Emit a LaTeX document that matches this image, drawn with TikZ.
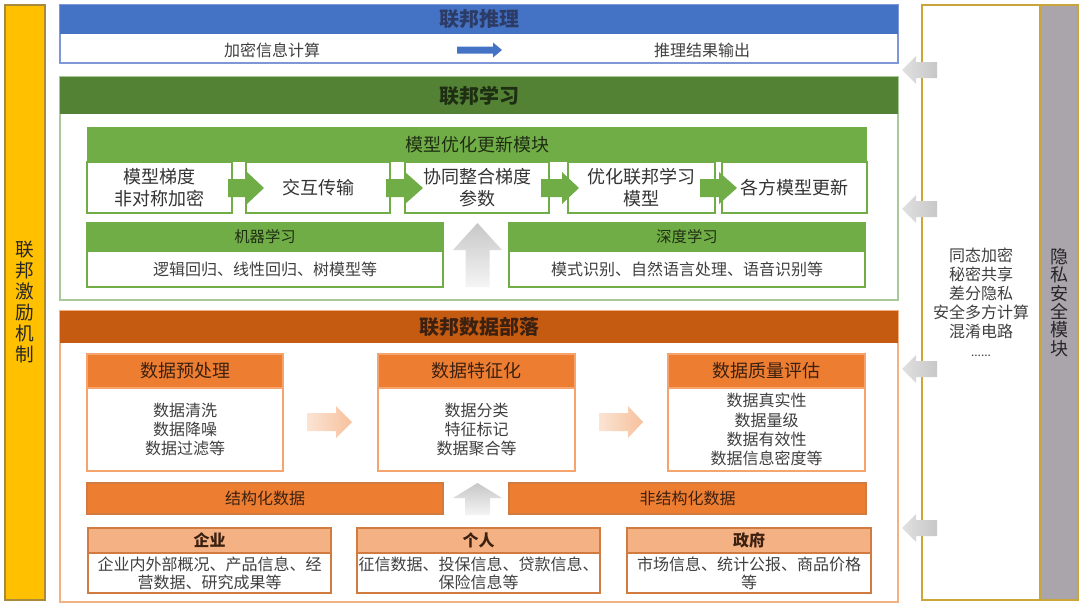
\documentclass[tikz,border=0pt]{standalone}
\usepackage{fontspec}
\setmainfont{Noto Sans CJK SC}
\definecolor{cBlue}{HTML}{4472C4}
\definecolor{cBlueL}{HTML}{7F97D6}
\definecolor{cBlueT}{HTML}{2C3C66}
\definecolor{cGreenD}{HTML}{548235}
\definecolor{cGreen}{HTML}{70AD47}
\definecolor{cGreenB}{HTML}{A9C99A}
\definecolor{cGreenT}{HTML}{1E2E12}
\definecolor{cOrD}{HTML}{C55A11}
\definecolor{cOr}{HTML}{ED7D31}
\definecolor{cOrL}{HTML}{F4B183}
\definecolor{cOrB}{HTML}{F5A46E}
\definecolor{cOrT}{HTML}{3C2110}
\definecolor{cYel}{HTML}{FFC000}
\definecolor{cYelB}{HTML}{A88A3A}
\definecolor{cGold}{HTML}{C9A53A}
\definecolor{cGray}{HTML}{A9A5AB}
\definecolor{txt}{HTML}{404040}
\newcommand\bx[7]{\node[#1, anchor=north west, minimum width={(#4-#2)*0.75pt}, minimum height={(#5-#3)*0.75pt}] (#6) at (#2,#3) {#7};}
\newcommand\harr[7]{\path[#1] (#2,#5-#6) -- (#3,#5-#6) -- (#3,#5-#7) -- (#4,#5) -- (#3,#5+#7) -- (#3,#5+#6) -- (#2,#5+#6) -- cycle;}
\newcommand\varr[7]{\path[#1] (#5-#6,#2) -- (#5-#6,#3) -- (#5-#7,#3) -- (#5,#4) -- (#5+#7,#3) -- (#5+#6,#3) -- (#5+#6,#2) -- cycle;}
\tikzset{
  base/.style={inner sep=0pt, outer sep=0pt, align=center, text=txt, line width=0.8pt},
  yellowbar/.style={base, fill=cYel, draw=cYelB, text=black!85, font=\fontsize{14}{15.75}\selectfont},
  blueouter/.style={base, draw=cBlueL, fill=white},
  bluehead/.style={base, fill=cBlue, text=cBlueT, font=\fontsize{15}{18}\selectfont\bfseries},
  bodytxt/.style={base, font=\fontsize{12}{14.25}\selectfont},
  greenouter/.style={base, draw=cGreenB, fill=white},
  greenhead/.style={base, fill=cGreenD, text=cGreenT, font=\fontsize{15}{18}\selectfont\bfseries},
  lghead/.style={base, fill=cGreen, text=cGreenT, font=\fontsize{13.5}{16}\selectfont},
  stepbox/.style={base, fill=white, draw=cGreen, text=black!80, font=\fontsize{13.5}{16.5}\selectfont},
  lghead2/.style={base, fill=cGreen, draw=cGreen, text=cGreenT, font=\fontsize{11.5}{14}\selectfont},
  gbody/.style={base, fill=white, draw=cGreen, font=\fontsize{12}{14}\selectfont},
  orouter/.style={base, draw=cOrL, fill=white},
  orhead/.style={base, fill=cOrD, text=cOrT, font=\fontsize{15}{18}\selectfont\bfseries},
  ohead/.style={base, fill=cOr, draw=cOrB, text=cOrT, font=\fontsize{13.5}{16}\selectfont},
  obody/.style={base, fill=white, draw=cOrB, font=\fontsize{12}{14.4}\selectfont},
  obar/.style={base, fill=cOr, draw=cOrD!80, text=cOrT, font=\fontsize{12}{14}\selectfont},
  srchead/.style={base, fill=cOrL, draw=cOrD!80, text=cOrT, font=\fontsize{12}{14}\selectfont\bfseries},
  srcbody/.style={base, fill=white, draw=cOrD!80, font=\fontsize{12}{13.5}\selectfont},
  secbox/.style={base, fill=white, draw=cGold, font=\fontsize{12}{14.3}\selectfont},
  graybar/.style={base, fill=cGray, draw=cGold, text=black!85, font=\fontsize{13.5}{13.8}\selectfont},
  garrow/.style={fill=cGreen},
  barrow/.style={fill=cBlue},
  oarrow/.style={left color=cOrL!35, right color=cOrL!80},
  uarrow/.style={top color=black!22, bottom color=black!4},
  larrow/.style={left color=black!12, right color=black!22},
}
\begin{document}
\begin{tikzpicture}[x=0.75pt,y=-0.75pt]
\useasboundingbox (0,0) rectangle (1080,603);
% left incentive bar
\bx{yellowbar}{5}{5}{45}{600}{incent}{联\\邦\\激\\励\\机\\制}
% inference
\bx{blueouter}{60}{5}{898}{63}{infer}{}
\bx{bluehead}{60}{5}{898}{34}{inferh}{联邦推理}
\node[bodytxt] (enc) at (272,50) {加密信息计算};
\node[bodytxt] (out) at (702,50) {推理结果输出};
\harr{barrow}{457}{493}{502}{50}{3.5}{7.5}
% learning
\bx{greenouter}{60}{77}{898}{300}{learn}{}
\bx{greenhead}{60}{77}{898}{114}{learnh}{联邦学习}
\bx{lghead}{87}{127}{867}{162}{modh}{模型优化更新模块}
\bx{stepbox}{87}{162}{232}{213}{s1}{模型梯度\\非对称加密}
\bx{stepbox}{246}{162}{390}{213}{s2}{交互传输}
\bx{stepbox}{405}{162}{549}{213}{s3}{协同整合梯度\\参数}
\bx{stepbox}{568}{162}{715}{213}{s4}{优化联邦学习\\模型}
\bx{stepbox}{722}{162}{867}{213}{s5}{各方模型更新}
\harr{garrow}{228}{247}{264}{188}{9}{16}
\harr{garrow}{386}{405}{423}{188}{9}{16}
\harr{garrow}{541}{562}{579}{188}{9}{16}
\harr{garrow}{700}{719}{737}{188}{9}{16}
\bx{lghead2}{87}{223}{443}{251}{mlh}{机器学习}
\bx{gbody}{87}{251}{443}{287}{mlb}{逻辑回归、线性回归、树模型等}
\bx{lghead2}{509}{223}{865}{251}{dlh}{深度学习}
\bx{gbody}{509}{251}{865}{287}{dlb}{模式识别、自然语言处理、语音识别等}
\varr{uarrow}{287}{250}{223}{477.5}{12}{24.5}
% data tribe
\bx{orouter}{60}{311}{898}{602}{data}{}
\bx{orhead}{60}{311}{898}{343}{datah}{联邦数据部落}
\bx{ohead}{87}{354}{283}{388}{p1h}{数据预处理}
\bx{obody}{87}{388}{283}{471}{p1b}{数据清洗\\数据降噪\\数据过滤等}
\bx{ohead}{378}{354}{575}{388}{p2h}{数据特征化}
\bx{obody}{378}{388}{575}{471}{p2b}{数据分类\\特征标记\\数据聚合等}
\bx{ohead}{668}{354}{865}{388}{p3h}{数据质量评估}
\bx{obody}{668}{388}{865}{471}{p3b}{数据真实性\\数据量级\\数据有效性\\数据信息密度等}
\harr{oarrow}{307}{336}{352}{422}{9}{16}
\harr{oarrow}{599}{628}{643}{422}{9}{16}
\bx{obar}{87}{483}{443}{514}{sd}{结构化数据}
\bx{obar}{509}{483}{866}{514}{ud}{非结构化数据}
\varr{uarrow}{515}{498}{483}{477.5}{12.5}{24.5}
\bx{srchead}{88}{528}{331}{553}{e1h}{企业}
\bx{srcbody}{88}{553}{331}{593}{e1b}{企业内外部概况、产品信息、经\\营数据、研究成果等}
\bx{srchead}{357}{528}{600}{553}{e2h}{个人}
\bx{srcbody}{357}{553}{600}{593}{e2b}{征信数据、投保信息、贷款信息、\\保险信息等}
\bx{srchead}{627}{528}{871}{553}{e3h}{政府}
\bx{srcbody}{627}{553}{871}{593}{e3b}{市场信息、统计公报、商品价格\\等}
% security
\bx{secbox}{922}{5}{1040}{600}{sec}{同态加密\\秘密共享\\差分隐私\\安全多方计算\\混淆电路\\{\fontsize{9}{10}\selectfont ......}}
\bx{graybar}{1040}{5}{1078}{600}{secm}{隐\\私\\安\\全\\模\\块}
\harr{larrow}{937}{916}{902}{70}{8}{14}
\harr{larrow}{937}{916}{902}{209}{8}{14}
\harr{larrow}{937}{916}{902}{369}{8}{14}
\harr{larrow}{937}{916}{902}{528}{8}{14}
\end{tikzpicture}
\end{document}
